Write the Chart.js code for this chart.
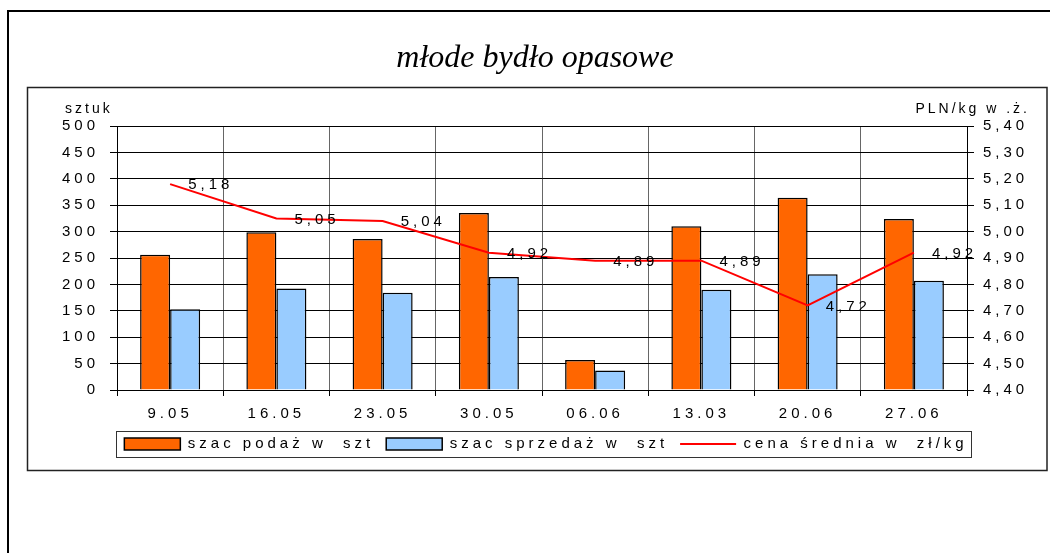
<!DOCTYPE html>
<html lang="pl">
<head>
<meta charset="utf-8">
<title>młode bydło opasowe</title>
<script src="https://cdn.jsdelivr.net/npm/chart.js@4.4.1/dist/chart.umd.min.js"></script>
<style>
  html, body { margin: 0; padding: 0; background: #fff; }
  #wykres { display: block; }
</style>
</head>
<body>
<canvas id="wykres" width="1050" height="553"></canvas>
<script>
// --- Dane wykresu ---
const tygodnie = ['9.05', '16.05', '23.05', '30.05', '06.06', '13.03', '20.06', '27.06'];
const podaz = [256, 299, 286, 335, 57, 310, 364, 324];
const sprzedaz = [153, 192, 184, 214, 37, 190, 219, 207];
const cenaSrednia = [5.18, 5.05, 5.04, 4.92, 4.89, 4.89, 4.72, 4.92];

// zakresy osi (lewa: sztuki, prawa: PLN/kg)
const osSztuk = [0, 500, 50];
const osCen = [4.4, 5.4, 0.1];

const tytul = 'młode bydło opasowe';
const opisLewy = 'sztuk';
const opisPrawy = 'PLN/kg w .ż.';
const nazwySerii = ['szac podaż w  szt', 'szac sprzedaż w  szt', 'cena średnia w  zł/kg'];

const czcionka = { family: '"Liberation Sans", Arial, sans-serif', size: 15 };

/**
 * Formatuje liczbę z przecinkiem (4,92).
 */
function przecinek(v) {
  return Number(v).toFixed(2).replace('.', ',');
}

// --- Pluginy pomocnicze ---

// rozstrzelony tekst jak w oryginale
const odstepLiter = {
  id: 'odstepLiter',
  beforeLayout(chart) { chart.ctx.letterSpacing = '4px'; },
  beforeDraw(chart) { chart.ctx.letterSpacing = '4px'; }
};

// tło i ramki (zewnętrzna wychodzi poza kadr z prawej i z dołu)
const ramki = {
  id: 'ramki',
  beforeDraw(chart) {
    const ctx = chart.ctx;
    ctx.save();
    ctx.fillStyle = '#fff';
    ctx.fillRect(0, 0, chart.width, chart.height);
    ctx.strokeStyle = '#000';
    ctx.lineWidth = 2;
    ctx.beginPath();
    ctx.moveTo(8, chart.height);
    ctx.lineTo(8, 11);
    ctx.lineTo(chart.width, 11);
    ctx.stroke();
    ctx.lineWidth = 1.5;
    ctx.strokeStyle = '#222';
    ctx.strokeRect(27.5, 87.5, 1019.5, 383);
    ctx.restore();
  }
};

// etykiety wartości przy linii ceny
const etykietyCen = {
  id: 'etykietyCen',
  afterDatasetsDraw(chart) {
    const meta = chart.getDatasetMeta(2);
    const ctx = chart.ctx;
    ctx.save();
    ctx.font = '15px "Liberation Sans", Arial, sans-serif';
    ctx.fillStyle = '#000';
    ctx.textAlign = 'left';
    ctx.textBaseline = 'middle';
    meta.data.forEach((pkt, i) => {
      ctx.fillText(przecinek(cenaSrednia[i]), pkt.x + 18, pkt.y + 1);
    });
    ctx.restore();
  }
};

// ramka wokół legendy
const ramkaLegendy = {
  id: 'ramkaLegendy',
  afterDraw(chart) {
    const boxes = chart.legend.legendHitBoxes;
    if (!boxes || !boxes.length) return;
    const left = Math.min(...boxes.map(b => b.left)) - 8;
    const right = Math.max(...boxes.map(b => b.left + b.width)) + 4;
    const top = Math.min(...boxes.map(b => b.top)) - 6;
    const bottom = Math.max(...boxes.map(b => b.top + b.height)) + 5;
    const ctx = chart.ctx;
    ctx.save();
    ctx.strokeStyle = '#333';
    ctx.lineWidth = 1;
    ctx.strokeRect(Math.round(left) + 0.5, Math.round(top) + 0.5, Math.round(right - left), Math.round(bottom - top));
    ctx.restore();
  }
};

// tytuł i opisy osi
const napisy = {
  id: 'napisy',
  afterDraw(chart) {
    const ctx = chart.ctx;
    const area = chart.chartArea;
    ctx.save();
    ctx.fillStyle = '#000';
    ctx.letterSpacing = '0px';
    ctx.font = 'italic 32px "Liberation Serif", "Times New Roman", serif';
    ctx.textAlign = 'center';
    ctx.textBaseline = 'alphabetic';
    ctx.fillText(tytul, 535, 67);

    ctx.letterSpacing = '3px';
    ctx.font = '14px "Liberation Sans", Arial, sans-serif';
    ctx.textBaseline = 'middle';
    ctx.textAlign = 'left';
    ctx.fillText(opisLewy, area.left - 52, area.top - 17);
    ctx.textAlign = 'right';
    ctx.fillText(opisPrawy, area.right + 63, area.top - 17);
    ctx.restore();
  }
};

// --- Wykres ---
new Chart(document.getElementById('wykres'), {
  type: 'bar',
  data: {
    labels: tygodnie,
    datasets: [
      {
        label: nazwySerii[0],
        data: podaz,
        backgroundColor: '#FF6600',
        borderColor: '#000',
        borderWidth: 1.5,
        pointStyle: 'rect',
        yAxisID: 'y',
        order: 1
      },
      {
        label: nazwySerii[1],
        data: sprzedaz,
        backgroundColor: '#99CCFF',
        borderColor: '#000',
        borderWidth: 1.5,
        pointStyle: 'rect',
        yAxisID: 'y',
        order: 1
      },
      {
        type: 'line',
        label: nazwySerii[2],
        data: cenaSrednia,
        borderColor: '#FF0000',
        backgroundColor: '#FF0000',
        borderWidth: 2,
        pointRadius: 0,
        pointStyle: 'line',
        pointBorderColor: '#FF0000',
        pointBorderWidth: 2,
        tension: 0,
        yAxisID: 'y1',
        order: 0
      }
    ]
  },
  options: {
    responsive: false,
    animation: false,
    devicePixelRatio: 1,
    layout: { padding: { left: 42, right: 0, top: 126, bottom: 91.5 } },
    datasets: { bar: { categoryPercentage: 0.565, barPercentage: 1 } },
    plugins: {
      title: { display: false },
      tooltip: { enabled: false },
      legend: {
        position: 'bottom',
        labels: {
          usePointStyle: true,
          pointStyleWidth: 56,
          boxWidth: 56,
          boxHeight: 12,
          padding: 12,
          color: '#000',
          font: czcionka,
          sort: (a, b) => a.datasetIndex - b.datasetIndex
        }
      }
    },
    scales: {
      x: {
        grid: { offset: true, color: '#666', tickLength: 6, tickColor: '#000' },
        border: { color: '#000', width: 1 },
        ticks: { color: '#000', font: czcionka, padding: 9, maxRotation: 0, autoSkip: false },
        afterFit: s => { s.height = 34.5; }
      },
      y: {
        position: 'left',
        min: osSztuk[0],
        max: osSztuk[1],
        ticks: { stepSize: osSztuk[2], color: '#000', font: czcionka, padding: 11 },
        grid: { color: '#000', tickLength: 7 },
        border: { color: '#000', width: 1 },
        afterFit: s => { s.width = 75; }
      },
      y1: {
        position: 'right',
        min: osCen[0],
        max: osCen[1],
        ticks: { stepSize: osCen[2], color: '#000', font: czcionka, padding: 9, callback: v => przecinek(v) },
        grid: { drawOnChartArea: false, color: '#000', tickLength: 7 },
        border: { color: '#000', width: 1 },
        afterFit: s => { s.width = 83; }
      }
    }
  },
  plugins: [odstepLiter, ramki, etykietyCen, ramkaLegendy, napisy]
});
</script>
</body>
</html>
